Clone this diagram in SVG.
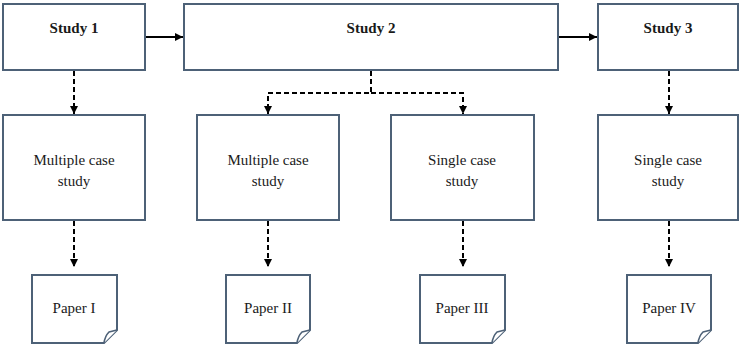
<svg xmlns="http://www.w3.org/2000/svg" width="741" height="346" viewBox="0 0 741 346">
  <defs>
    <style>
      .box { fill: #ffffff; stroke: #4d6177; stroke-width: 2; }
      .fold { fill: #ffffff; stroke: #4d6177; stroke-width: 1.6; stroke-linejoin: round; }
      .title { font-family: "Liberation Serif", "Times New Roman", serif; font-size: 15px; font-weight: bold; fill: #1a1a1a; text-anchor: middle; }
      .label { font-family: "Liberation Serif", "Times New Roman", serif; font-size: 15px; fill: #1a1a1a; text-anchor: middle; }
      .solid { fill: none; stroke: #000000; stroke-width: 2; }
      .dash { fill: none; stroke: #000000; stroke-width: 2; stroke-dasharray: 5 3; }
    </style>
    <marker id="head" viewBox="0 0 10 10" refX="10" refY="5" markerWidth="8" markerHeight="8" markerUnits="userSpaceOnUse" orient="auto">
      <path d="M0,0 L10,5 L0,10 Z" fill="#000000"/>
    </marker>
  </defs>

  <!-- connectors -->
  <g id="connectors">
    <line class="solid" x1="146" y1="37" x2="183" y2="37" marker-end="url(#head)"/>
    <line class="solid" x1="559" y1="37" x2="597" y2="37" marker-end="url(#head)"/>
    <line class="dash" x1="74" y1="71" x2="74" y2="114" marker-end="url(#head)"/>
    <path class="dash" d="M371,71 V93 H268 V114" marker-end="url(#head)"/>
    <path class="dash" d="M371,93 H463 V114" marker-end="url(#head)"/>
    <line class="dash" x1="669" y1="71" x2="669" y2="114" marker-end="url(#head)"/>
    <line class="dash" x1="74" y1="221" x2="74" y2="267" marker-end="url(#head)"/>
    <line class="dash" x1="268" y1="221" x2="268" y2="267" marker-end="url(#head)"/>
    <line class="dash" x1="463" y1="221" x2="463" y2="267" marker-end="url(#head)"/>
    <line class="dash" x1="669" y1="221" x2="669" y2="267" marker-end="url(#head)"/>
  </g>

  <!-- studies -->
  <g id="study1">
    <rect class="box" x="3" y="4" width="142" height="66"/>
    <text class="title" x="74" y="33">Study 1</text>
  </g>
  <g id="study2">
    <rect class="box" x="184" y="4" width="374" height="66"/>
    <text class="title" x="371" y="33">Study 2</text>
  </g>
  <g id="study3">
    <rect class="box" x="598" y="4" width="140" height="66"/>
    <text class="title" x="668" y="33">Study 3</text>
  </g>

  <!-- case study designs -->
  <g id="case1">
    <rect class="box" x="3" y="115" width="142" height="105"/>
    <text class="label" x="74" y="165">Multiple case</text>
    <text class="label" x="74" y="186">study</text>
  </g>
  <g id="case2">
    <rect class="box" x="197" y="115" width="142" height="105"/>
    <text class="label" x="268" y="165">Multiple case</text>
    <text class="label" x="268" y="186">study</text>
  </g>
  <g id="case3">
    <rect class="box" x="391" y="115" width="143" height="105"/>
    <text class="label" x="462" y="165">Single case</text>
    <text class="label" x="462" y="186">study</text>
  </g>
  <g id="case4">
    <rect class="box" x="598" y="115" width="140" height="105"/>
    <text class="label" x="668" y="165">Single case</text>
    <text class="label" x="668" y="186">study</text>
  </g>

  <!-- papers (note shapes with folded corner) -->
  <g id="paper1">
    <path class="box" d="M32,275 H117 V330 L104,343 H32 Z"/>
    <path class="fold" d="M117,330 L109,332 Q105,336 104,343"/>
    <text class="label" x="74" y="313">Paper I</text>
  </g>
  <g id="paper2">
    <path class="box" d="M226,275 H310 V330 L297,343 H226 Z"/>
    <path class="fold" d="M310,330 L302,332 Q298,336 297,343"/>
    <text class="label" x="268" y="313">Paper II</text>
  </g>
  <g id="paper3">
    <path class="box" d="M420,275 H505 V330 L492,343 H420 Z"/>
    <path class="fold" d="M505,330 L497,332 Q493,336 492,343"/>
    <text class="label" x="462" y="313">Paper III</text>
  </g>
  <g id="paper4">
    <path class="box" d="M627,275 H711 V330 L698,343 H627 Z"/>
    <path class="fold" d="M711,330 L703,332 Q699,336 698,343"/>
    <text class="label" x="669" y="313">Paper IV</text>
  </g>
</svg>
